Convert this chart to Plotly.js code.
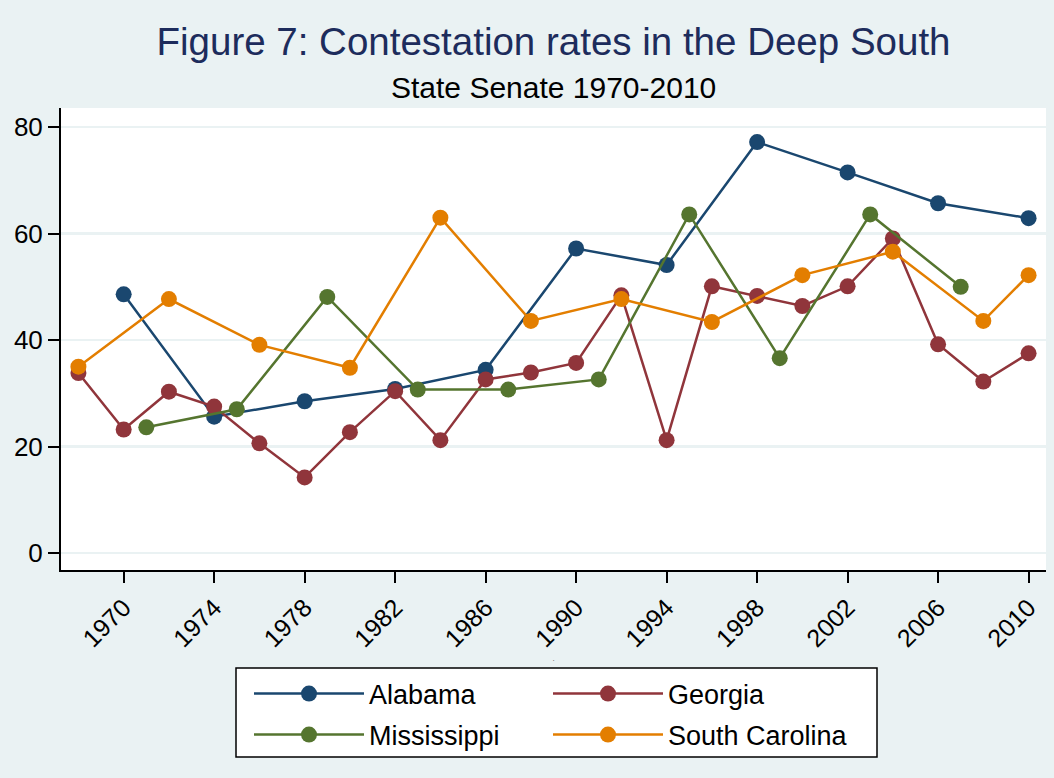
<!DOCTYPE html>
<html>
<head>
<meta charset="utf-8">
<script src="https://cdn.plot.ly/plotly-3.0.1.min.js"></script>
<style>html,body{margin:0;padding:0;background:#eaf2f3;}#chart{width:1054px;height:778px;}</style>
</head>
<body>
<div id="chart"></div>
<script>
// Data
const alabamaYears = [1970, 1974, 1978, 1982, 1986, 1990, 1994, 1998, 2002, 2006, 2010];
const alabamaRates = [48.6, 25.6, 28.5, 30.8, 34.4, 57.2, 54.1, 77.2, 71.5, 65.7, 62.9];

const georgiaYears = [1968, 1970, 1972, 1974, 1976, 1978, 1980, 1982, 1984, 1986, 1988, 1990, 1992, 1994, 1996, 1998, 2000, 2002, 2004, 2006, 2008, 2010];
const georgiaRates = [33.8, 23.2, 30.3, 27.5, 20.6, 14.2, 22.7, 30.4, 21.2, 32.6, 33.9, 35.7, 48.4, 21.2, 50.1, 48.3, 46.4, 50.1, 59.1, 39.2, 32.2, 37.5];

const mississippiYears = [1971, 1975, 1979, 1983, 1987, 1991, 1995, 1999, 2003, 2007];
const mississippiRates = [23.6, 27.0, 48.1, 30.7, 30.7, 32.6, 63.6, 36.6, 63.6, 50.0];

const southCarolinaYears = [1968, 1972, 1976, 1980, 1984, 1988, 1992, 1996, 2000, 2004, 2008, 2010];
const southCarolinaRates = [35.0, 47.7, 39.1, 34.8, 63.0, 43.6, 47.7, 43.4, 52.2, 56.6, 43.6, 52.2];

const xTickYears = [1970, 1974, 1978, 1982, 1986, 1990, 1994, 1998, 2002, 2006, 2010];
const yTickValues = [0, 20, 40, 60, 80];

const chartTitle = "Figure 7: Contestation rates in the Deep South";
const chartSubtitle = "State Senate 1970-2010";

const seriesNames = ["Alabama", "Georgia", "Mississippi", "South Carolina"];
const seriesColors = ["#1a476f", "#90353b", "#55752f", "#e37e00"];
const seriesX = [alabamaYears, georgiaYears, mississippiYears, southCarolinaYears];
const seriesY = [alabamaRates, georgiaRates, mississippiRates, southCarolinaRates];

const FONT = "Liberation Sans, Arial, sans-serif";

// plot-area geometry in pixels (used only for placing title/legend in paper coords)
const PL = 61, PR = 1046, PT = 108, PB = 570;
const PW = PR - PL, PH = PB - PT;
const px2x = p => (p - PL) / PW;
const py2y = p => (PB - p) / PH;

const legendIds = ["legend", "legend2", "legend3", "legend4"];
// legend cell: [left px of legend origin, centre y px]
const legendCells = [[249, 694], [548, 694], [249, 735], [548, 735]];

const traces = seriesNames.map((name, i) => ({
  type: "scatter",
  mode: "lines+markers",
  name: name,
  legend: legendIds[i],
  x: seriesX[i],
  y: seriesY[i],
  line: { color: seriesColors[i], width: 2.5 },
  marker: { color: seriesColors[i], size: 16 },
  cliponaxis: false
}));

const layout = {
  width: 1054,
  height: 778,
  paper_bgcolor: "#eaf2f3",
  plot_bgcolor: "#ffffff",
  margin: { l: PL, r: 1054 - PR, t: PT, b: 778 - PB, pad: 0, autoexpand: false },
  font: { family: FONT, color: "#000000", size: 26 },
  title: {
    text: chartTitle,
    font: { family: FONT, size: 38.5, color: "#1d2c5c" },
    xref: "paper", x: 0.5, xanchor: "center",
    yref: "container", y: 1 - 42 / 778, yanchor: "middle"
  },
  annotations: [{
    text: chartSubtitle,
    xref: "paper", x: 0.5, xanchor: "center",
    yref: "paper", y: py2y(87), yanchor: "middle",
    showarrow: false,
    font: { family: FONT, size: 30, color: "#000000" }
  }],
  shapes: [{
    type: "rect", layer: "below",
    xref: "paper", yref: "paper",
    x0: px2x(236), x1: px2x(877), y0: py2y(757), y1: py2y(668),
    fillcolor: "#ffffff",
    line: { color: "#000000", width: 1.5 }
  }],
  xaxis: {
    range: [1967.23, 2010.77],
    tickmode: "array",
    tickvals: xTickYears,
    ticktext: xTickYears.map(String),
    tickangle: -45,
    ticks: "outside", ticklen: 11, tickwidth: 2, tickcolor: "#000000",
    showline: true, linecolor: "#000000", linewidth: 2,
    showgrid: false, zeroline: false, automargin: false,
    tickfont: { family: FONT, size: 25, color: "#000000" },
    title: { text: ".", font: { family: FONT, size: 8, color: "#555555" }, standoff: 4 }
  },
  yaxis: {
    range: [-3.2, 83.6],
    tickmode: "array",
    tickvals: yTickValues,
    ticktext: yTickValues.map(String),
    ticks: "outside", ticklen: 11, tickwidth: 2, tickcolor: "#000000",
    showline: true, linecolor: "#000000", linewidth: 2,
    showgrid: true, gridcolor: "#eaf2f3", gridwidth: 2.5,
    zeroline: false, automargin: false,
    tickfont: { family: FONT, size: 26, color: "#000000" }
  },
  showlegend: true
};

legendIds.forEach((id, i) => {
  layout[id] = {
    orientation: "v",
    xref: "paper", x: px2x(legendCells[i][0]), xanchor: "left",
    yref: "paper", y: py2y(legendCells[i][1]), yanchor: "middle",
    bgcolor: "rgba(0,0,0,0)", borderwidth: 0,
    font: { family: FONT, size: 27, color: "#000000" },
    itemwidth: 110
  };
});

Plotly.newPlot("chart", traces, layout, { displayModeBar: false, staticPlot: true });
</script>
</body>
</html>
